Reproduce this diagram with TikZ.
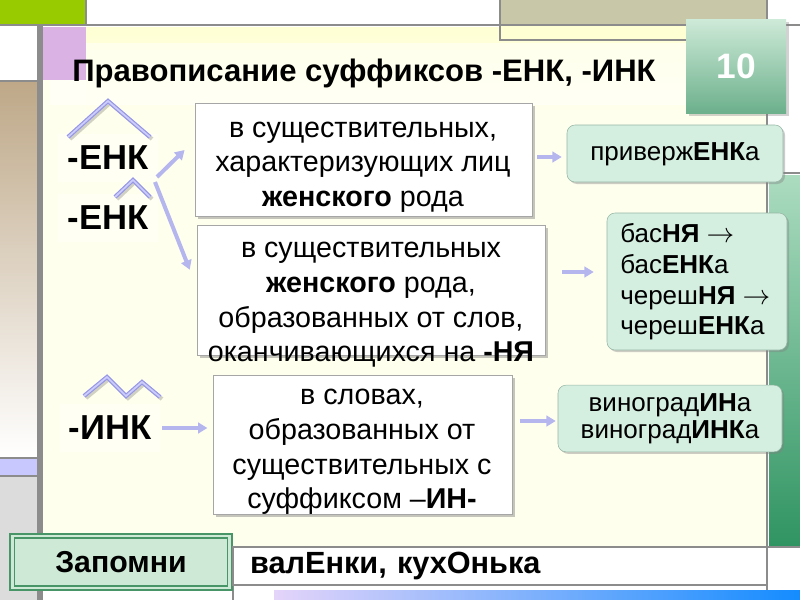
\documentclass[tikz,border=0pt]{standalone}
\usepackage{fontspec}
\setmainfont{Liberation Sans}
\usetikzlibrary{shadows,arrows.meta,calc}
\definecolor{linec}{RGB}{140,140,140}
\definecolor{greenblk}{RGB}{153,204,0}
\definecolor{khaki}{RGB}{200,200,168}
\definecolor{paley}{RGB}{255,255,212}
\definecolor{cream}{RGB}{255,255,238}
\definecolor{purp}{RGB}{218,178,228}
\definecolor{brown}{RGB}{190,168,136}
\definecolor{lav}{RGB}{200,200,255}
\definecolor{lgray}{RGB}{220,220,220}
\definecolor{gtop}{RGB}{172,220,192}
\definecolor{gbot}{RGB}{48,148,98}
\definecolor{numtop}{RGB}{206,234,216}
\definecolor{numbot}{RGB}{108,176,140}
\definecolor{gboxc}{RGB}{212,238,224}
\definecolor{gboxd}{RGB}{150,182,165}
\definecolor{arrowc}{RGB}{182,182,238}
\definecolor{roofc}{RGB}{150,150,232}
\definecolor{roofin}{RGB}{205,205,250}
\definecolor{zapf}{RGB}{206,234,214}
\definecolor{zapd}{RGB}{72,150,104}
\definecolor{bluel}{RGB}{228,212,250}
\definecolor{blued}{RGB}{20,140,255}
\tikzset{
  wbox/.style={draw=black!35, fill=white, inner sep=0pt,
    drop shadow={shadow xshift=2pt, shadow yshift=-2pt, opacity=0.45}},
  btxt/.style={align=center, inner sep=0pt, font=\fontsize{21.5}{26}\selectfont},
  gbox/.style={draw=gboxd, fill=gboxc, rounded corners=6pt, inner sep=0pt,
    drop shadow={shadow xshift=1.5pt, shadow yshift=-1.5pt, opacity=0.4}},
  gtxt/.style={inner sep=0pt, font=\fontsize{19.5}{23}\selectfont},
  arr/.style={-{Triangle[length=7pt,width=8pt]}, line width=3pt, draw=arrowc},
  lab/.style={font=\fontsize{26}{30}\selectfont\bfseries, fill=white, fill opacity=0.3,
    text opacity=1, minimum width=75pt, minimum height=36pt, inner sep=0pt},
  roof/.style={draw=roofc, line width=0.9pt, double=roofin, double distance=1.3pt, line join=miter},
  roofsh/.style={draw=black, opacity=0.18, line width=3pt},
  gline/.style={draw=linec, line width=1.2pt},
}
\begin{document}
\begin{tikzpicture}[x=0.75pt,y=-0.75pt]
\useasboundingbox (0,0) rectangle (800,600);
\fill[white] (0,0) rectangle (800,600);
% main cream area
\fill[cream] (43,27) rectangle (766,547);
\shade[top color=paley, bottom color=cream] (86,27) rectangle (766,115);
\fill[white, opacity=0.5] (50,43) rectangle (690,105);
% top strip
\fill[greenblk] (0,0) rectangle (86,25);
\fill[khaki] (500,0) rectangle (766,25);
\filldraw[fill=paley, draw=linec, line width=1pt] (500,25) rectangle (766,40);
\draw[gline] (0,25) -- (800,25);
\draw[gline] (86,0) -- (86,25);
\draw[gline] (500,0) -- (500,25);
% left column
\fill[purp] (43,27) rectangle (86,80);
\shade[top color=brown, bottom color=white] (0,82) rectangle (37,457);
\fill[lav] (0,459) rectangle (37,475);
\fill[lgray] (0,477) rectangle (37,600);
\draw[gline] (0,81) -- (37,81);
\draw[gline] (0,458) -- (37,458);
\draw[gline] (0,476) -- (37,476);
\draw[draw=linec, line width=4pt] (40,25) -- (40,600);
% right column
\shade[top color=gtop, bottom color=gbot] (769,175) rectangle (800,545);
\draw[gline] (767,173) -- (800,173);
\draw[gline] (767,0) -- (767,590);
\draw[gline] (233,547) -- (800,547);
\draw[gline] (233,585) -- (233,600);
\shade[left color=bluel, right color=blued] (274,590) rectangle (800,600);
% title
\node[font=\fontsize{23.3}{27}\selectfont\bfseries, inner sep=0pt] (title) at (364,73) {Правописание суффиксов -ЕНК, -ИНК};
\node[top color=numtop, bottom color=numbot, minimum width=75pt, minimum height=70.5pt, inner sep=0pt,
  drop shadow={shadow xshift=2pt, shadow yshift=-2pt, opacity=0.35},
  text=white, font=\fontsize{26.5}{30}\selectfont\bfseries] (num) at (736,66) {10};
% labels
\node[lab] (enk1) at (108,158) {-ЕНК};
\node[lab] (enk2) at (108,218) {-ЕНК};
\node[lab] (ink) at (110,428) {-ИНК};
% roofs
\draw[roofsh] (70,139) -- (110,103) -- (152,139);
\draw[roof] (68,137) -- (108,101) -- (150,137);
\draw[roofsh] (117,199) -- (135,182) -- (152,199);
\draw[roof] (115,197) -- (133,180) -- (150,197);
\draw[roofsh] (86,398) -- (109,379) -- (128,398) -- (144,384) -- (162,399);
\draw[roof] (84,396) -- (107,377) -- (126,396) -- (142,382) -- (160,397);
% white boxes
\node[wbox, minimum width=253pt, minimum height=85pt] (b1) at (363.5,159.5) {};
\node[btxt] (t1) at (363,167) {в существительных,\\характеризующих лиц\\\textbf{женского} рода};
\node[wbox, minimum width=261pt, minimum height=97.5pt] (b2) at (371,290) {};
\node[btxt] (t2) at (371,305) {в существительных\\\textbf{женского} рода,\\образованных от слов,\\оканчивающихся на \textbf{-НЯ}};
\node[wbox, minimum width=224pt, minimum height=104pt] (b3) at (362.5,444.5) {};
\node[btxt] (t3) at (362,452) {в словах,\\образованных от\\существительных с\\суффиксом –\textbf{ИН-}};
% green boxes
\node[gbox, minimum width=162pt, minimum height=42.75pt] (g1) at (675,153.5) {};
\node[gtxt] (s1) at (675,154) {приверж\textbf{ЕНК}а};
\node[gbox, minimum width=135pt, minimum height=102.75pt] (g2) at (697,281.5) {};
\node[gtxt, align=left, anchor=west] (s2) at (620,282) {бас\textbf{НЯ} $\rightarrow$\\бас\textbf{ЕНК}а\\череш\textbf{НЯ} $\rightarrow$\\череш\textbf{ЕНК}а};
\node[gbox, minimum width=168pt, minimum height=50pt] (g3) at (670,418.5) {};
\node[gtxt, align=center, font=\fontsize{19.5}{20}\selectfont] (s3) at (670,419) {виноград\textbf{ИН}а\\виноград\textbf{ИНК}а};
% arrows
\draw[arr] ($(enk1.center)+(49,19)$) -- ($(b1.west)+(-10,-9.5)$);
\draw[arr] ($(enk1.center)+(47,24)$) -- ($(b2.north west)+(-7,45)$);
\draw[arr] ($(b1.east)+(5,-2.5)$) -- ($(g1.west)+(-5,3.5)$);
\draw[arr] ($(b2.east)+(17,-18)$) -- ($(g2.west)+(-13,-9.5)$);
\draw[arr] ($(ink.east)+(2,0)$) -- ($(b3.west)+(-5.5,-16.5)$);
\draw[arr] ($(b3.east)+(7.5,-23.5)$) -- ($(g3.west)+(-2,2.5)$);
% bottom
\node[fill=zapf, draw=zapd, double=zapf, double distance=2pt, line width=1.2pt,
  minimum width=163pt, minimum height=39pt, inner sep=0pt,
  font=\fontsize{22.7}{26}\selectfont\bfseries] (zap) at (121,562) {Запомни};
\node[draw=linec, fill=white, line width=1pt, minimum width=400pt, minimum height=28.5pt,
  text width=374pt, align=left, inner xsep=13pt, inner ysep=0pt,
  font=\fontsize{23}{27}\selectfont\bfseries] (val) at (499.5,566) {валЕнки, кухОнька};
\end{tikzpicture}
\end{document}
